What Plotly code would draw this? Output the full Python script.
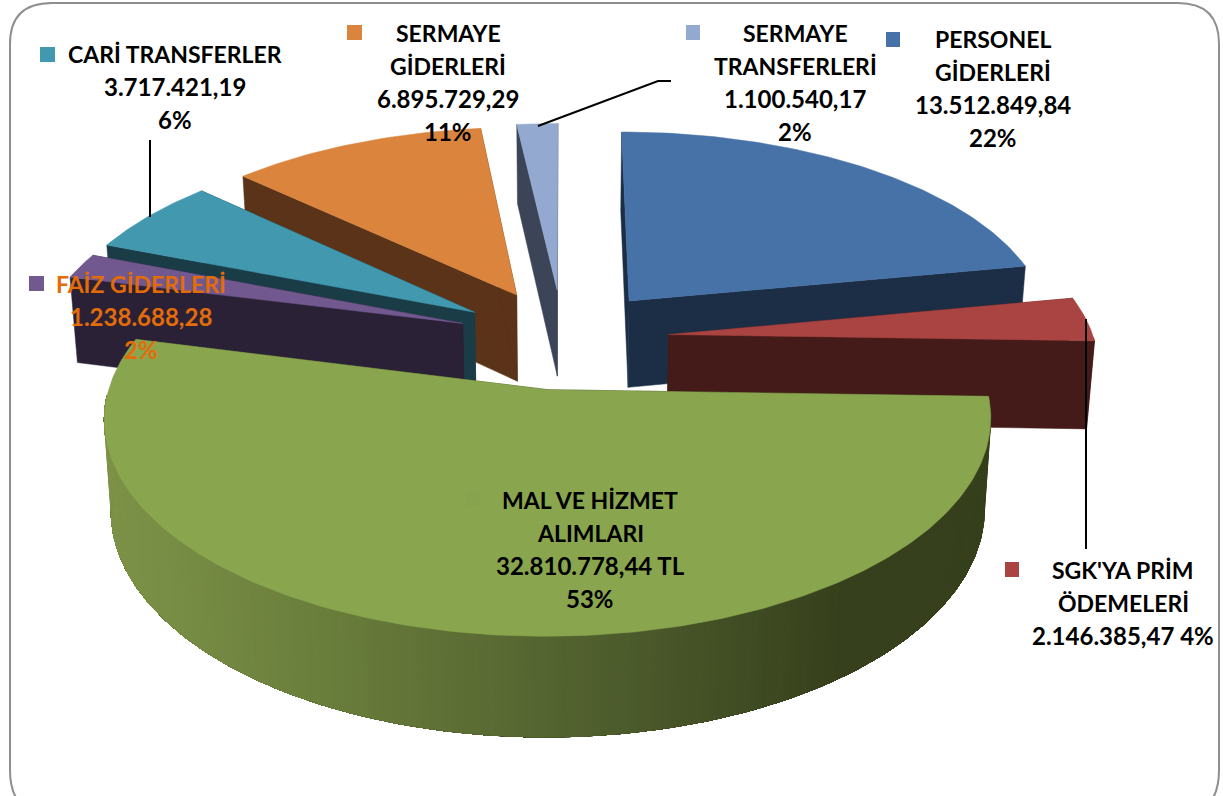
import math
import plotly.graph_objects as go

# ---- data (clockwise from 12 o'clock) ----
categories = ["PERSONEL GİDERLERİ", "SGK'YA PRİM ÖDEMELERİ", "MAL VE HİZMET ALIMLARI",
              "FAİZ GİDERLERİ", "CARİ TRANSFERLER", "SERMAYE GİDERLERİ", "SERMAYE TRANSFERLERİ"]
values = [13512849.84, 2146385.47, 32810778.44, 1238688.28, 3717421.19, 6895729.29, 1100540.17]
top_colors = ["#4672A8", "#A94442", "#89A54E", "#71588F", "#4198AF", "#DB843D", "#93A9D0"]
wall_colors = ["#1B2E46", "#441B19", "#36401C", "#2B2137", "#1A3C47", "#5A3318", "#3B4557"]
draw_order = [6, 5, 0, 4, 3, 1, 2]

label_lines = [
    ["PERSONEL", "GİDERLERİ", "13.512.849,84", "22%"],
    ["SGK'YA PRİM", "ÖDEMELERİ", "2.146.385,47 4%"],
    ["MAL VE HİZMET", "ALIMLARI", "32.810.778,44 TL", "53%"],
    ["FAİZ GİDERLERİ", "1.238.688,28", "2%"],
    ["CARİ TRANSFERLER", "3.717.421,19", "6%"],
    ["SERMAYE", "GİDERLERİ", "6.895.729,29", "11%"],
    ["SERMAYE", "TRANSFERLERİ", "1.100.540,17", "2%"],
]
label_x = [993, 1123, 590, 141, 175, 448, 795]
label_y = [39, 570, 500, 284, 54, 33, 33]
label_color = ["#000000", "#000000", "#000000", "#E36C09", "#000000", "#000000", "#000000"]
key_boxes = [(886, 32, 900, 47), (1005, 562, 1019, 577), (466, 491, 480, 506), (29, 276, 44, 291),
             (40, 47, 55, 62), (347, 25, 362, 40), (686, 25, 700, 40)]
key_colors = ["#4672A8", "#A94442", "#87A34D", "#71588F", "#4198AF", "#DB843D", "#93A9D0"]

# ---- view geometry ----
CX, CY, RX, KY, PERSP, HEIGHT, EXPLODE, SHRINK = 563, 338.5, 425, 200, 0.13, 88, 0.25, 0.015


def proj(x, y, h=0.0):
    s = 1 / (1 - PERSP * y)
    f = 1 - SHRINK * h
    return CX + RX * x * s * f, CY + KY * y * s * f + HEIGHT * h * s


def lerp_hex(t):
    stops = [(115, (125, 146, 72)), (330, (106, 126, 60)), (600, (80, 95, 46)), (850, (54, 64, 28)), (1100, (54, 64, 28))]
    for (a, ca), (b, cb) in zip(stops, stops[1:]):
        if t <= b:
            f = max(0, (t - a) / (b - a))
            return "rgb(%d,%d,%d)" % tuple(ca[i] + (cb[i] - ca[i]) * f for i in range(3))
    return "rgb(54,64,28)"


fig = go.Figure()


def poly(pts, color):
    fig.add_trace(go.Scatter(x=[p[0] for p in pts] + [pts[0][0]], y=[p[1] for p in pts] + [pts[0][1]],
                             mode="lines", fill="toself", fillcolor=color,
                             line=dict(color=color, width=0.5), hoverinfo="skip", showlegend=False))


total = sum(values)
bounds = [0.0]
for v in values:
    bounds.append(bounds[-1] + v / total * 2 * math.pi)

for i in draw_order:
    a0, a1 = bounds[i], bounds[i + 1]
    mid = (a0 + a1) / 2
    ox, oy = EXPLODE * math.sin(mid), -EXPLODE * math.cos(mid)
    n = max(4, int((a1 - a0) / 0.015))
    angs = [a0 + (a1 - a0) * k / n for k in range(n + 1)]
    rim = [(ox + math.sin(a), oy - math.cos(a)) for a in angs]
    # radial side faces
    for (x, y) in (rim[0], rim[-1]):
        poly([proj(ox, oy), proj(x, y), proj(x, y, 1), proj(ox, oy, 1)], wall_colors[i])
    # outer rim: painted from the right-hand end onward; each later band overlaps the rest, so no seams
    front = [k for k in range(n + 1) if -math.cos(angs[k]) > 0]
    if front:
        front = front[:-1] if i == 2 else front
        for idx, k in enumerate(front):
            tail = front[idx:]
            q = [proj(*rim[m]) for m in tail] + [proj(*rim[m], 1) for m in reversed(tail)]
            col = lerp_hex(q[0][0]) if i == 2 else wall_colors[i]
            if len(q) >= 4 and (i == 2 or idx == 0):
                poly(q, col)
    # top face
    poly([proj(ox, oy)] + [proj(x, y) for x, y in rim], top_colors[i])

shapes = [dict(type="path", xref="x", yref="y",
               path="M 10 44 Q 10 3 52 3 L 1178 3 Q 1219 3 1219 44 L 1219 770 Q 1219 815 1178 815 "
                    "L 52 815 Q 10 815 10 770 Z",
               line=dict(color="#8F8F8F", width=2), fillcolor="rgba(0,0,0,0)", layer="below")]
for (x0, y0, x1, y1), c in zip(key_boxes, key_colors):
    shapes.append(dict(type="rect", xref="x", yref="y", x0=x0, y0=y0, x1=x1, y1=y1,
                       fillcolor=c, line=dict(width=0), layer="above"))
for xs, ys in (([150, 150], [140, 217]), ([1086, 1086], [319, 549]), ([538, 658, 671], [126, 81, 81])):
    path = "M " + " L ".join(f"{a} {b}" for a, b in zip(xs, ys))
    shapes.append(dict(type="path", xref="x", yref="y", path=path, line=dict(color="#000000", width=2), layer="above"))

annotations = []
for lines, x, y, c in zip(label_lines, label_x, label_y, label_color):
    for j, t in enumerate(lines):
        annotations.append(dict(x=x, y=y + j * 32.7, text=f"<b>{t}</b>", showarrow=False, xref="x", yref="y",
                                xanchor="center", yanchor="middle",
                                font=dict(family="Lato", size=24 if t[0].isdigit() else 23, color=c)))

fig.update_layout(width=1223, height=796, margin=dict(l=0, r=0, t=0, b=0),
                  paper_bgcolor="white", plot_bgcolor="white", showlegend=False,
                  xaxis=dict(range=[0, 1223], visible=False, fixedrange=True),
                  yaxis=dict(range=[796, 0], visible=False, fixedrange=True),
                  shapes=shapes, annotations=annotations)
fig.write_html("out.html", post_script="document.body.style.margin='0';", config={"displayModeBar": False})
